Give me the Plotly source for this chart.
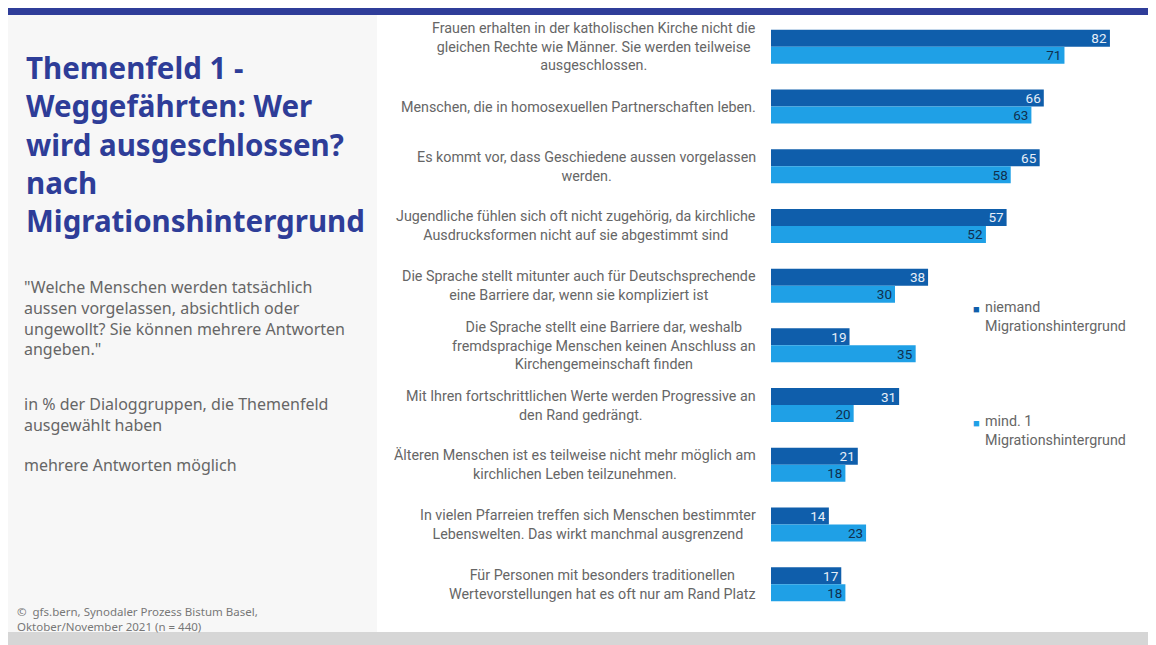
import plotly.graph_objects as go

categories = [
    "Frauen erhalten in der katholischen Kirche nicht die<br>gleichen Rechte wie Männer. Sie werden teilweise<br>ausgeschlossen.",
    "Menschen, die in homosexuellen Partnerschaften leben.",
    "Es kommt vor, dass Geschiedene aussen vorgelassen<br>werden.",
    "Jugendliche fühlen sich oft nicht zugehörig, da kirchliche<br>Ausdrucksformen nicht auf sie abgestimmt sind",
    "Die Sprache stellt mitunter auch für Deutschsprechende<br>eine Barriere dar, wenn sie kompliziert ist",
    "Die Sprache stellt eine Barriere dar, weshalb<br>fremdsprachige Menschen keinen Anschluss an<br>Kirchengemeinschaft finden",
    "Mit Ihren fortschrittlichen Werte werden Progressive an<br>den Rand gedrängt.",
    "Älteren Menschen ist es teilweise nicht mehr möglich am<br>kirchlichen Leben teilzunehmen.",
    "In vielen Pfarreien treffen sich Menschen bestimmter<br>Lebenswelten. Das wirkt manchmal ausgrenzend",
    "Für Personen mit besonders traditionellen<br>Wertevorstellungen hat es oft nur am Rand Platz",
]
niemand = [82, 66, 65, 57, 38, 19, 31, 21, 14, 17]
mind1 = [71, 63, 58, 52, 30, 35, 20, 18, 23, 18]
series_names = ["niemand<br>Migrationshintergrund", "mind. 1<br>Migrationshintergrund"]

title_text = "Themenfeld 1 -<br>Weggefährten: Wer<br>wird ausgeschlossen?<br>nach<br>Migrationshintergrund"
question_text = "\"Welche Menschen werden tatsächlich<br>aussen vorgelassen, absichtlich oder<br>ungewollt? Sie können mehrere Antworten<br>angeben.\""
basis_text = "in % der Dialoggruppen, die Themenfeld<br>ausgewählt haben"
multi_text = "mehrere Antworten möglich"
source_text = "©  gfs.bern, Synodaler Prozess Bistum Basel,<br>Oktober/November 2021 (n = 440)"

OFF = 8  # page body margin
W, H = 1156 - OFF, 645 - OFF
L, T = 771 - OFF, 17 - OFF
R = W - (1143 - OFF)
B = H - (614 - OFF)
PW, PH = W - L - R, H - T - B

def px(x):  # page pixel -> paper
    return (x - OFF - L) / PW

def py(y):
    return 1 - (y - OFF - T) / PH

DARK = "#0f5eab"
LIGHT = "#1fa0e6"
NAVY = "#2e3d98"
GRAY = "#666666"
COND = "Roboto, sans-serif"
SANS = "Noto Sans, sans-serif"

fig = go.Figure()
fig.add_trace(go.Bar(
    y=categories, x=niemand, orientation="h", name=series_names[0],
    marker=dict(color=DARK, line=dict(width=0)),
    text=[str(v) for v in niemand], textposition="inside", insidetextanchor="end",
    textangle=0, constraintext="none",
    textfont=dict(color="#e6eef8", size=13.5, family=COND), showlegend=False,
))
fig.add_trace(go.Bar(
    y=categories, x=mind1, orientation="h", name=series_names[1],
    marker=dict(color=LIGHT, line=dict(width=0)),
    text=[str(v) for v in mind1], textposition="inside", insidetextanchor="end",
    textangle=0, constraintext="none",
    textfont=dict(color="#10304f", size=13.5, family=COND), showlegend=False,
))

shapes = [
    dict(type="rect", xref="paper", yref="paper", x0=px(8), x1=px(377), y0=py(632), y1=py(15),
         fillcolor="#f7f7f7", line=dict(width=0), layer="below"),
    dict(type="rect", xref="paper", yref="paper", x0=px(8), x1=px(1160), y0=py(15), y1=py(4),
         fillcolor="#2f3d99", line=dict(width=0), layer="below"),
    dict(type="rect", xref="paper", yref="paper", x0=px(8), x1=px(1160), y0=py(650), y1=py(632),
         fillcolor="#d6d6d6", line=dict(width=0), layer="below"),
]

annotations = []
for c in categories:
    annotations.append(dict(
        x=px(758), y=c, xref="paper", yref="y", text=c, showarrow=False,
        xanchor="right", yanchor="middle", align="center",
        font=dict(size=14.3, color=GRAY, family=COND),
    ))

annotations += [
    dict(x=px(24), y=py(45), xref="paper", yref="paper", text=title_text, showarrow=False,
         xanchor="left", yanchor="top", align="left",
         font=dict(size=29.5, color=NAVY, family=SANS, weight="bold")),
    dict(x=px(22), y=py(274), xref="paper", yref="paper", text=question_text, showarrow=False,
         xanchor="left", yanchor="top", align="left",
         font=dict(size=16, color=GRAY, family=SANS)),
    dict(x=px(22), y=py(391), xref="paper", yref="paper", text=basis_text, showarrow=False,
         xanchor="left", yanchor="top", align="left",
         font=dict(size=16, color=GRAY, family=SANS)),
    dict(x=px(22), y=py(452), xref="paper", yref="paper", text=multi_text, showarrow=False,
         xanchor="left", yanchor="top", align="left",
         font=dict(size=16, color=GRAY, family=SANS)),
    dict(x=px(15), y=py(602), xref="paper", yref="paper", text=source_text, showarrow=False,
         xanchor="left", yanchor="top", align="left",
         font=dict(size=11.5, color="#777777", family=SANS)),
    # legend
    dict(x=px(976), y=py(308), xref="paper", yref="paper", text="■", showarrow=False,
         xanchor="center", yanchor="middle", font=dict(size=11, color=DARK)),
    dict(x=px(983), y=py(297), xref="paper", yref="paper", text=series_names[0], showarrow=False,
         xanchor="left", yanchor="top", align="left",
         font=dict(size=14.3, color=GRAY, family=COND)),
    dict(x=px(976), y=py(422), xref="paper", yref="paper", text="■", showarrow=False,
         xanchor="center", yanchor="middle", font=dict(size=11, color=LIGHT)),
    dict(x=px(983), y=py(411), xref="paper", yref="paper", text=series_names[1], showarrow=False,
         xanchor="left", yanchor="top", align="left",
         font=dict(size=14.3, color=GRAY, family=COND)),
]

fig.update_layout(
    width=W, height=H,
    margin=dict(l=L, r=R, t=T, b=B, autoexpand=False),
    paper_bgcolor="white", plot_bgcolor="white",
    barmode="group", bargap=0.43, bargroupgap=0,
    xaxis=dict(range=[0, 90], visible=False, fixedrange=True),
    yaxis=dict(type="category", range=[9.5, -0.5], showticklabels=False, showgrid=False,
               zeroline=False, showline=False, ticks=""),
    shapes=shapes, annotations=annotations,
    showlegend=False,
)

fig.write_html("out.html")
